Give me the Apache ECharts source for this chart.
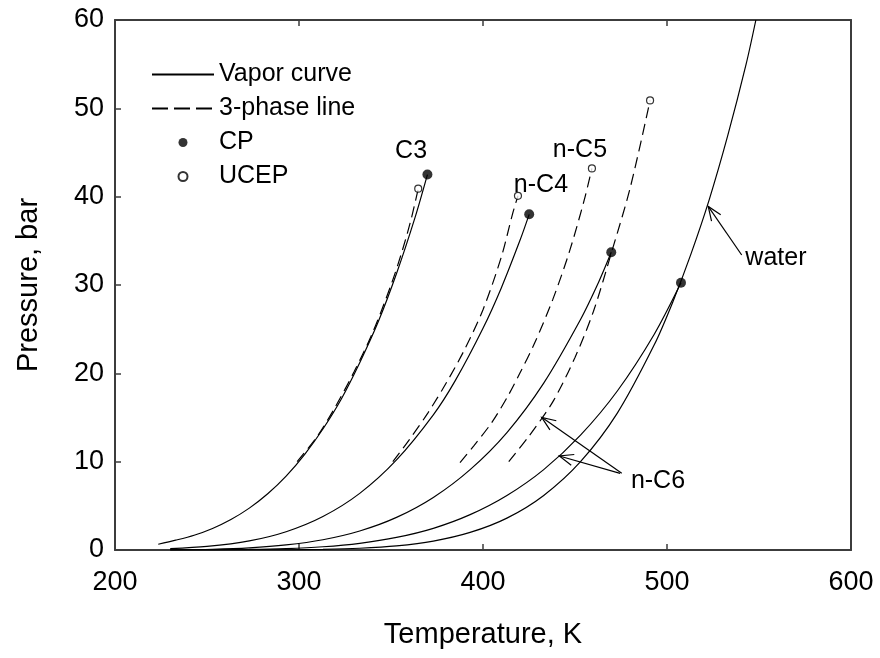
<!DOCTYPE html>
<html><head><meta charset="utf-8">
<script src="https://cdn.jsdelivr.net/npm/echarts@6/dist/echarts.min.js"></script>
<style>html,body{margin:0;padding:0;background:#fff}#c{width:880px;height:658px}</style>
</head><body><div id="c"></div>
<script>
// ---- axis ticks ----
const xTicks = [200, 300, 400, 500, 600];
const yTicks = [0, 10, 20, 30, 40, 50, 60];

// ---- vapor curves [T (K), P (bar)] ----
const c3Vapor = [[223.5,0.65],[233,1.11],[243,1.67],[253,2.44],[263,3.45],[273,4.74],[283,6.36],[293,8.36],[303,10.8],[313,13.7],[323,17.1],[333,21.2],[343,25.8],[353,31.3],[363,37.6],[369.8,42.5]];
const nC4Vapor = [[230,0.15],[250,0.40],[273,1.03],[293,2.07],[313,3.79],[333,6.41],[353,10.2],[373,15.3],[385,19.2],[400,25.1],[410,29.7],[420,35.0],[425.1,38.0]];
const nC5Vapor = [[230,0.02],[253,0.085],[273,0.24],[293,0.57],[313,1.16],[333,2.15],[353,3.69],[373,5.95],[393,9.1],[413,13.3],[433,18.9],[453,26.1],[463,30.4],[469.7,33.7]];
const nC6Vapor = [[230,0.005],[253,0.025],[273,0.06],[293,0.16],[313,0.37],[333,0.76],[353,1.42],[373,2.45],[393,4.0],[413,6.17],[433,9.1],[453,13.0],[473,18.0],[493,24.4],[507.6,30.25]];
const waterVapor = [[230,0.001],[273,0.006],[293,0.023],[313,0.074],[333,0.2],[353,0.47],[373,1.01],[393,1.99],[413,3.61],[433,6.18],[453,10.0],[473,15.5],[493,23.2],[503,28.0],[513,33.5],[523,39.7],[533,46.9],[543,55.0],[548.3,60]];

// ---- 3-phase lines ----
const c3ThreePhase = [[299,10.0],[310,12.9],[320,16.3],[330,20.2],[340,24.6],[350,30.0],[356,33.8],[361,37.5],[364.8,40.9]];
const nC4ThreePhase = [[351,10.0],[360,12.5],[370,15.5],[380,18.9],[390,22.7],[400,27.2],[410,33.2],[416,38.0],[419,40.1]];
const nC5ThreePhase = [[387.5,9.9],[395,11.8],[405,14.5],[414,17.6],[420,20.0],[428,23.4],[438,28.4],[447,33.8],[455,39.6],[459.2,43.2]];
const nC6ThreePhase = [[414,10.0],[425,12.9],[438,16.8],[450,21.8],[460,27.0],[470,33.8],[480,41.0],[490.8,50.9]];

// ---- critical points and upper critical end points ----
const cpPoints = [[369.8,42.5],[425.1,38.0],[469.7,33.7],[507.6,30.25]];
const ucepPoints = [[364.8,40.9],[419,40.1],[459.2,43.2],[490.8,50.9]];

// ---- annotations (data coords) ----
const labelTexts = ['C3','n-C4','n-C5','water','n-C6'];
const labelAt = [[360.9,45.2],[431.5,41.3],[452.7,45.3],[559.2,33.0],[495.1,7.8]];
const arrowFrom = [[540.6,33.4],[475.4,8.68],[474.5,8.68]];
const arrowTo = [[522.4,38.9],[431.9,15.02],[441.5,10.64]];

const FONT = '"Liberation Sans", Arial, sans-serif';
const AX = '#3c3c3c';

const vaporStyle = {color:'#000', width:1.2};
const tpStyle = {color:'#000', width:1.2, type:[11,6]};
function lineSeries(name, data, style){
  return {name:name, type:'line', data:data, symbol:'none', showSymbol:false, smooth:0.3,
    lineStyle:style, itemStyle:{color:'#000'}, silent:true, z:2, animation:false};
}

const chart = echarts.init(document.getElementById('c'), null, {renderer:'canvas'});
const axisCommon = {
  type:'value', splitLine:{show:false},
  axisLine:{show:true, onZero:false, lineStyle:{color:AX, width:2}},
  axisTick:{show:true, inside:true, length:6, lineStyle:{color:AX, width:1.5}}
};
chart.setOption({
  animation:false,
  backgroundColor:'#fff',
  grid:{left:115, right:29, top:20, bottom:108, containLabel:false},
  xAxis:[
    Object.assign({}, axisCommon, {min:xTicks[0], max:xTicks[xTicks.length-1], interval:100, position:'bottom',
      axisLabel:{fontSize:27, color:'#000', fontFamily:FONT, margin:19},
      name:'Temperature, K', nameLocation:'middle', nameGap:70,
      nameTextStyle:{fontSize:29, color:'#000', fontFamily:FONT}}),
    Object.assign({}, axisCommon, {min:xTicks[0], max:xTicks[xTicks.length-1], interval:100, position:'top',
      axisLabel:{show:false}})
  ],
  yAxis:[
    Object.assign({}, axisCommon, {min:yTicks[0], max:yTicks[yTicks.length-1], interval:10, position:'left',
      axisLabel:{fontSize:27, color:'#000', fontFamily:FONT, margin:11},
      name:'Pressure, bar', nameLocation:'middle', nameGap:72, nameRotate:90,
      nameTextStyle:{fontSize:29, color:'#000', fontFamily:FONT}}),
    Object.assign({}, axisCommon, {min:yTicks[0], max:yTicks[yTicks.length-1], interval:10, position:'right',
      axisTick:{show:false}, axisLabel:{show:false}})
  ],
  legend:{
    data:[
      {name:'Vapor curve', itemStyle:{opacity:0}},
      {name:'3-phase line', itemStyle:{opacity:0}, lineStyle:{type:[16,6]}},
      {name:'CP', icon:'circle'},
      {name:'UCEP', icon:'circle'}
    ],
    orient:'vertical', left:146, top:57,
    itemWidth:62, itemHeight:9, itemGap:9, itemTextGap:11, selectedMode:false,
    textStyle:{fontSize:25, color:'#000', fontFamily:FONT}
  },
  series:[
    lineSeries('Vapor curve', c3Vapor, vaporStyle),
    lineSeries('Vapor curve', nC4Vapor, vaporStyle),
    lineSeries('Vapor curve', nC5Vapor, vaporStyle),
    lineSeries('Vapor curve', nC6Vapor, vaporStyle),
    lineSeries('Vapor curve', waterVapor, vaporStyle),
    lineSeries('3-phase line', c3ThreePhase, tpStyle),
    lineSeries('3-phase line', nC4ThreePhase, tpStyle),
    lineSeries('3-phase line', nC5ThreePhase, tpStyle),
    lineSeries('3-phase line', nC6ThreePhase, tpStyle),
    {name:'CP', type:'scatter', data:cpPoints, symbol:'circle', symbolSize:10,
      itemStyle:{color:'#000'}, z:5, silent:true},
    {name:'UCEP', type:'scatter', data:ucepPoints, symbol:'circle', symbolSize:7,
      itemStyle:{color:'#fff', borderColor:'#000', borderWidth:1.2}, z:6, silent:true}
  ]
});

// annotations: labels and open-head arrows, placed via the chart's own scales
const gfx = [];
labelTexts.forEach(function(t, i){
  const p = chart.convertToPixel({gridIndex:0}, labelAt[i]);
  gfx.push({type:'text', x:p[0], y:p[1], z:10,
    style:{text:t, fontSize:25, fontFamily:FONT, fill:'#000', align:'center', verticalAlign:'middle'}});
});
arrowFrom.forEach(function(f, i){
  const a = chart.convertToPixel({gridIndex:0}, f);
  const b = chart.convertToPixel({gridIndex:0}, arrowTo[i]);
  const ang = Math.atan2(a[1]-b[1], a[0]-b[0]);
  const L = 15, s = 0.38;
  const h1 = [b[0] + L*Math.cos(ang+s), b[1] + L*Math.sin(ang+s)];
  const h2 = [b[0] + L*Math.cos(ang-s), b[1] + L*Math.sin(ang-s)];
  gfx.push({type:'polyline', z:10, shape:{points:[a,b]}, style:{stroke:'#000', lineWidth:1.2, fill:null}});
  gfx.push({type:'polyline', z:10, shape:{points:[h1,b,h2]}, style:{stroke:'#000', lineWidth:1.2, fill:null}});
});
chart.setOption({graphic:gfx});
</script>
</body></html>
